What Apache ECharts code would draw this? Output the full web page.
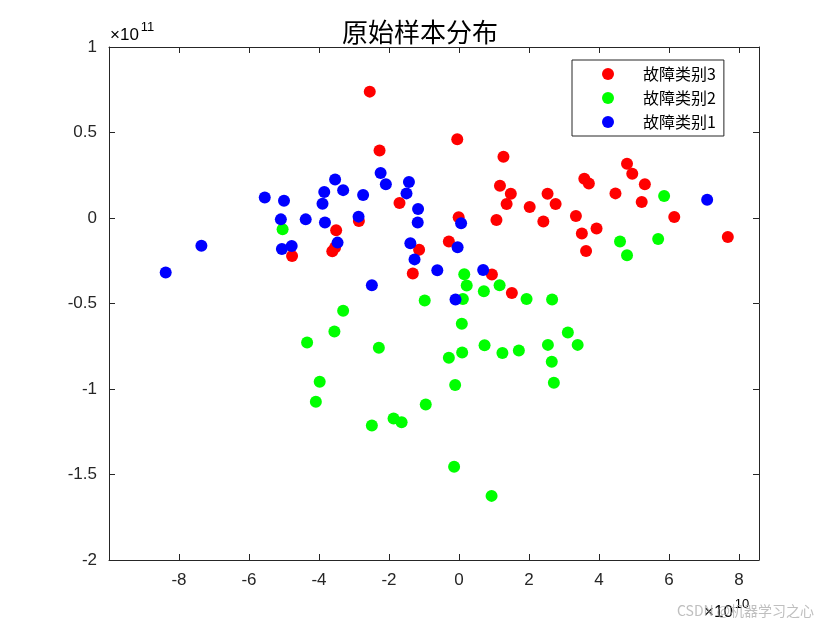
<!DOCTYPE html>
<html>
<head>
<meta charset="utf-8">
<script src="https://cdn.jsdelivr.net/npm/echarts@6/dist/echarts.min.js"></script>
<style>html,body{margin:0;padding:0;background:#fff;}#c{width:840px;height:630px;}</style>
</head>
<body>
<div id="c"></div>
<script>
// x values in units of 1e10, y values in units of 1e11
var seriesNames = ['故障类别3', '故障类别2', '故障类别1'];
var class3X = [-2.55,-0.05,-2.27,1.27,1.17,1.48,1.36,-1.70,1.07,-0.01,-2.86,-3.51,-3.62,-3.54,-4.77,-0.29,-1.14,-1.32,0.94,1.51,2.02,2.53,2.76,2.41,3.34,3.51,3.93,3.63,3.58,3.71,4.47,4.80,4.95,5.31,5.22,6.15,7.68];
var class3Y = [0.739,0.461,0.395,0.358,0.189,0.142,0.082,0.088,-0.012,0.004,-0.018,-0.072,-0.195,-0.172,-0.222,-0.137,-0.185,-0.325,-0.331,-0.438,0.064,0.142,0.082,-0.020,0.012,-0.090,-0.062,-0.193,0.229,0.202,0.144,0.317,0.259,0.198,0.093,0.006,-0.111];
var class2X = [-5.04,0.15,0.22,0.71,1.16,-0.98,0.11,-3.31,5.86,4.60,5.69,4.80,1.93,2.66,-3.56,-4.34,-2.29,-3.98,-4.09,-2.49,-1.87,-1.64,-0.95,0.08,-0.29,0.09,0.73,1.24,1.71,-0.11,-0.14,0.93,3.11,2.54,3.39,2.65,2.71];
var class2Y = [-0.066,-0.329,-0.395,-0.428,-0.393,-0.483,-0.473,-0.543,0.128,-0.137,-0.123,-0.218,-0.473,-0.477,-0.664,-0.728,-0.759,-0.957,-1.074,-1.214,-1.173,-1.195,-1.090,-0.619,-0.817,-0.786,-0.744,-0.790,-0.775,-0.977,-1.454,-1.625,-0.670,-0.742,-0.742,-0.841,-0.963];
var class1X = [-8.38,-7.36,-5.55,-5.00,-5.09,-4.38,-5.06,-4.78,-3.90,-3.85,-3.54,-3.31,-3.83,-3.47,-2.74,-2.87,-2.24,-2.09,-1.43,-1.50,-1.17,-1.18,-1.39,-1.27,-0.62,0.06,-0.04,0.69,-2.49,-0.10,7.09];
var class1Y = [-0.319,-0.162,0.120,0.101,-0.008,-0.008,-0.181,-0.164,0.083,0.152,0.225,0.163,-0.027,-0.144,0.134,0.008,0.263,0.198,0.210,0.144,0.053,-0.026,-0.148,-0.242,-0.306,-0.031,-0.171,-0.304,-0.393,-0.477,0.107];
var colors = ['#ff0000', '#00ff00', '#0000ff'];

function zip(xs, ys) { return xs.map(function (x, i) { return [x, ys[i]]; }); }
var allData = [zip(class3X, class3Y), zip(class2X, class2Y), zip(class1X, class1Y)];

var axisColor = '#262626';
var tickFont = { color: axisColor, fontSize: 17, fontFamily: 'Liberation Sans, Arial, sans-serif' };

function xFmt(v) {
  if (Math.abs(v - Math.round(v)) > 1e-6 || v <= -10 + 1e-6) return '';
  return String(Math.round(v));
}
function yFmt(v) { return String(Math.round(v * 10) / 10); }

function axisBase(extra) {
  return Object.assign({
    type: 'value',
    axisLine: { show: true, onZero: false, lineStyle: { color: axisColor, width: 1 } },
    axisTick: { show: true, inside: true, length: 6, lineStyle: { color: axisColor } },
    splitLine: { show: false }
  }, extra);
}

var chart = echarts.init(document.getElementById('c'), null, { renderer: 'canvas' });
chart.setOption({
  animation: false,
  backgroundColor: '#fff',
  title: {
    text: '原始样本分布', left: 'center', top: 14,
    textStyle: { fontSize: 26, fontWeight: 'normal', color: '#000', fontFamily: 'Noto Sans CJK SC' }
  },
  legend: {
    orient: 'vertical', left: 572, top: 60,
    data: seriesNames,
    icon: 'circle', itemWidth: 12, itemHeight: 12, itemGap: 8,
    padding: [6, 8, 6, 30],
    borderColor: axisColor, borderWidth: 1, borderRadius: 0, backgroundColor: '#fff',
    textStyle: { fontSize: 16, lineHeight: 16, color: '#000', fontFamily: 'Noto Sans CJK SC', padding: [0, 0, 0, 24] }
  },
  grid: { left: 109, top: 47, right: 81, bottom: 70, containLabel: false },
  xAxis: [
    axisBase({ min: -10, max: 8.571, interval: 2, position: 'bottom',
      axisLabel: Object.assign({ margin: 12, formatter: xFmt, showMaxLabel: false }, tickFont) }),
    axisBase({ min: -10, max: 8.571, interval: 2, position: 'top', axisLabel: { show: false } })
  ],
  yAxis: [
    axisBase({ min: -2, max: 1, interval: 0.5, position: 'left',
      axisLabel: Object.assign({ margin: 12, formatter: yFmt }, tickFont) }),
    axisBase({ min: -2, max: 1, interval: 0.5, position: 'right', axisLabel: { show: false } })
  ],
  series: seriesNames.map(function (n, i) {
    return {
      name: n, type: 'scatter', xAxisIndex: 0, yAxisIndex: 0,
      data: allData[i], symbol: 'circle', symbolSize: 12,
      itemStyle: { color: colors[i], opacity: 1 },
      emphasis: { disabled: true }
    };
  }),
  graphic: [
    {
      type: 'text', left: 110, top: 21,
      style: {
        text: '{a|×10}{b|11}',
        rich: {
          a: { fontSize: 17, color: axisColor, fontFamily: 'Liberation Sans, Arial', padding: [8, 0, 0, 0] },
          b: { fontSize: 13, color: axisColor, fontFamily: 'Liberation Sans, Arial', padding: [0, 0, 8, 2] }
        }
      }
    },
    {
      type: 'text', left: 704, top: 598,
      style: {
        text: '{a|×10}{b|10}',
        rich: {
          a: { fontSize: 17, color: axisColor, fontFamily: 'Liberation Sans, Arial', padding: [8, 0, 0, 0] },
          b: { fontSize: 13, color: axisColor, fontFamily: 'Liberation Sans, Arial', padding: [0, 0, 8, 2] }
        }
      }
    },
    {
      type: 'text', left: 677, top: 604, z: 100,
      style: { text: 'CSDN @机器学习之心', fontSize: 14, fill: 'rgba(170,170,170,0.75)', fontFamily: 'Noto Sans CJK SC' }
    }
  ]
});
</script>
</body>
</html>
